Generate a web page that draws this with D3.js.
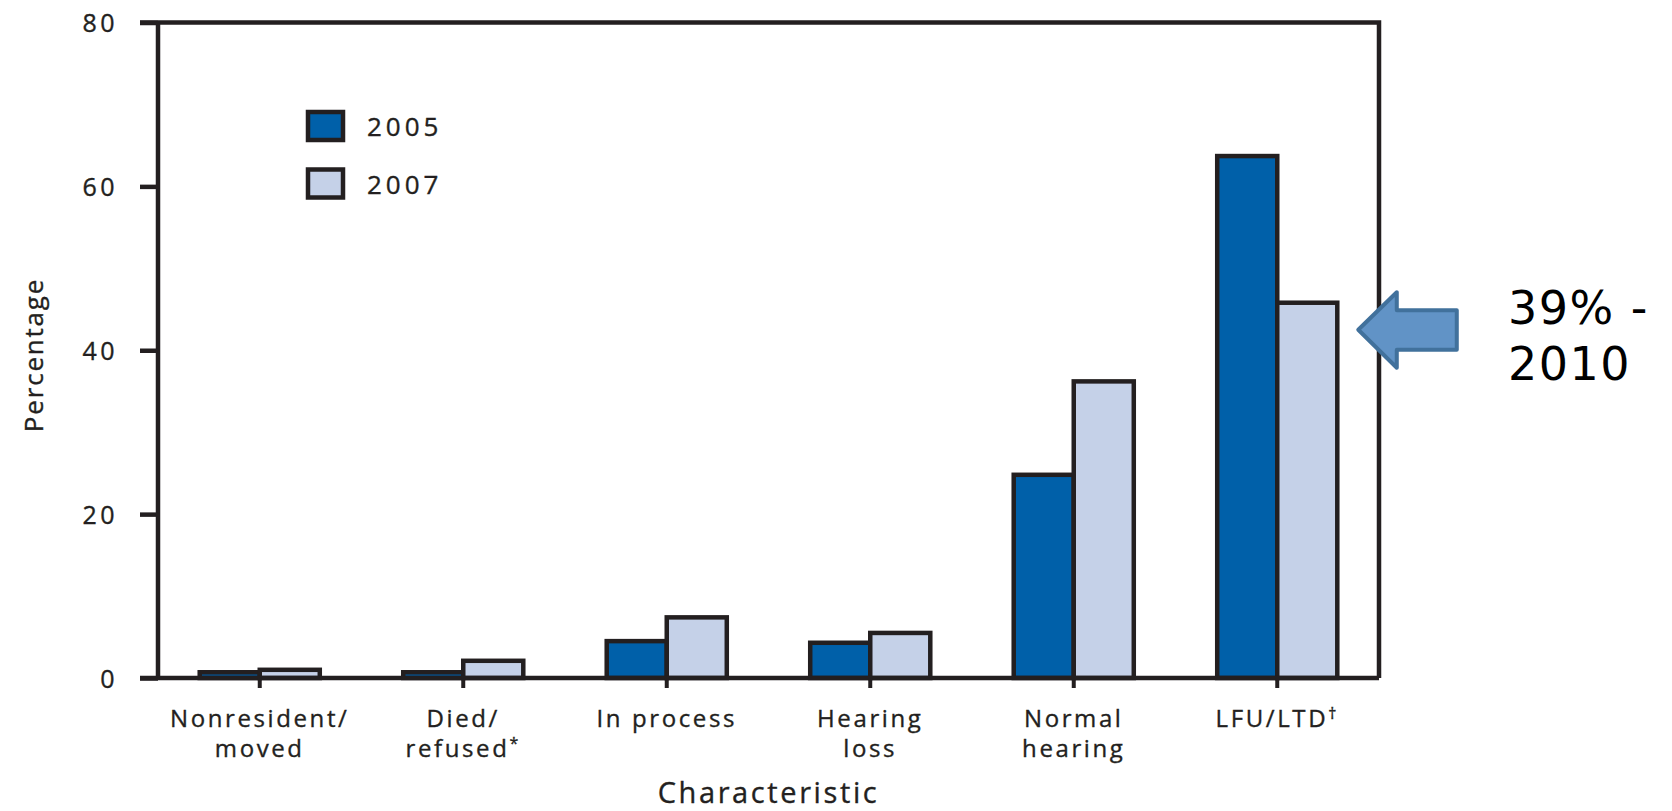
<!DOCTYPE html>
<html>
<head>
<meta charset="utf-8">
<script src="https://cdn.jsdelivr.net/npm/d3@7"></script>
<style>
  body { margin: 0; background: #fff; }
  svg text.lbl { font-family: "Open Sans", sans-serif; fill: #231f20; stroke: #231f20; stroke-width: 0.35px; }
</style>
</head>
<body>
<div id="chart"></div>
<script>
// data
var categories = ["Nonresident/moved", "Died/refused*", "In process", "Hearing loss", "Normal hearing", "LFU/LTD†"];
var catLines = [["Nonresident/", "moved"], ["Died/", "refused*"], ["In process"], ["Hearing", "loss"], ["Normal", "hearing"], ["LFU/LTD†"]];
var years = ["2005", "2007"];
var values2005 = [0.7, 0.7, 4.5, 4.3, 24.8, 63.7];
var values2007 = [1.0, 2.1, 7.4, 5.5, 36.2, 45.8];
var yTicks = [0, 20, 40, 60, 80];
var noteLines = ["39% -", "2010"];
var noteValue = 42.5;

var colors = {"2005": "#0060a9", "2007": "#c5d1e8"};
var ink = "#231f20";

var W = 1672, H = 811;
var plotL = 158, plotR = 1379, plotT = 22.5, plotB = 678;

var svg = d3.select("#chart")
  .append("svg")
  .attr("width", W)
  .attr("height", H);

var x = d3.scaleBand()
  .domain(categories)
  .range([plotL, plotR])
  .paddingInner(0.41)
  .paddingOuter(0.205);

var x1 = d3.scaleBand()
  .domain(years)
  .range([0, x.bandwidth()]);

var y = d3.scaleLinear()
  .domain([0, 80])
  .range([plotB, plotT]);

var rows = categories.map(function(c, i) {
  return {cat: c, vals: [{year: "2005", v: values2005[i]}, {year: "2007", v: values2007[i]}]};
});

// bars
var groups = svg.selectAll("g.cat")
  .data(rows)
  .enter()
  .append("g")
  .attr("class", "cat")
  .attr("transform", function(d) { return "translate(" + x(d.cat) + ",0)"; });

groups.selectAll("rect")
  .data(function(d) { return d.vals; })
  .enter()
  .append("rect")
  .attr("x", function(d) { return x1(d.year); })
  .attr("y", function(d) { return y(d.v); })
  .attr("width", x1.bandwidth())
  .attr("height", function(d) { return y(0) - y(d.v); })
  .style("fill", function(d) { return colors[d.year]; })
  .style("stroke", ink)
  .style("stroke-width", 4.5);

// frame top + right
svg.append("path")
  .attr("d", "M" + (plotL - 18) + "," + plotT + "H" + plotR + "V" + plotB)
  .style("fill", "none")
  .style("stroke", ink)
  .style("stroke-width", 4.5);

// y axis
var yAxis = svg.append("g")
  .attr("transform", "translate(" + plotL + ",0)")
  .call(d3.axisLeft(y).tickValues(yTicks).tickSize(18).tickPadding(22));
yAxis.select(".domain").attr("d", "M0," + plotT + "V" + plotB).style("stroke", ink).style("stroke-width", 4.5);
yAxis.selectAll(".tick line").style("stroke", ink).style("stroke-width", 4.5);
yAxis.selectAll(".tick text")
  .attr("class", "lbl")
  .style("font-size", "25px")
  .style("letter-spacing", "3.5px")
  .attr("dy", "0.36em");

// x axis
var xAxis = svg.append("g")
  .attr("transform", "translate(0," + plotB + ")")
  .call(d3.axisBottom(x).tickSize(10).tickFormat(""));
xAxis.select(".domain").attr("d", "M" + (plotL - 18) + ",0H" + plotR).style("stroke", ink).style("stroke-width", 4.5);
xAxis.selectAll(".tick line").style("stroke", ink).style("stroke-width", 4);

// category labels
categories.forEach(function(c, i) {
  var cx = x(c) + x.bandwidth() / 2;
  catLines[i].forEach(function(line, j) {
    var mark = line.slice(-1);
    var t = svg.append("text")
      .attr("class", "lbl")
      .attr("x", cx)
      .attr("y", 727 + j * 30)
      .attr("text-anchor", "middle")
      .style("font-size", "24px")
      .style("letter-spacing", "2.6px");
    if (mark === "*" || mark === "†") {
      t.append("tspan").text(line.slice(0, -1));
      t.append("tspan")
        .attr("dy", -8)
        .style("font-size", "16px")
        .text(mark);
    } else {
      t.text(line);
    }
  });
});

// axis titles
svg.append("text")
  .attr("class", "lbl")
  .attr("x", (plotL + plotR) / 2)
  .attr("y", 803)
  .attr("text-anchor", "middle")
  .style("font-size", "29px")
  .style("letter-spacing", "2.6px")
  .text("Characteristic");

svg.append("text")
  .attr("class", "lbl")
  .attr("transform", "translate(43,355) rotate(-90)")
  .attr("text-anchor", "middle")
  .style("font-size", "26px")
  .style("letter-spacing", "1.8px")
  .text("Percentage");

// legend
var legend = svg.selectAll("g.legend")
  .data(years)
  .enter()
  .append("g")
  .attr("class", "legend")
  .attr("transform", function(d, i) { return "translate(308," + (112 + i * 57.5) + ")"; });

legend.append("rect")
  .attr("width", 35)
  .attr("height", 28)
  .style("fill", function(d) { return colors[d]; })
  .style("stroke", ink)
  .style("stroke-width", 4.5);

legend.append("text")
  .attr("class", "lbl")
  .attr("x", 59)
  .attr("y", 24)
  .style("font-size", "26px")
  .style("letter-spacing", "4px")
  .text(function(d) { return d; });

// annotation arrow pointing at the 2007 LFU bar
var ax = x(categories[5]) + x.bandwidth() + 21;
var ay = y(noteValue);
svg.append("path")
  .attr("transform", "translate(" + ax + "," + ay + ")")
  .attr("d", "M0,0L38.5,-37.5V-19.5H98.5V20H38.5V38Z")
  .style("fill", "#6193c6")
  .style("stroke", "#41719c")
  .style("stroke-width", 4)
  .style("stroke-linejoin", "round");

svg.append("text")
  .attr("x", 1508)
  .attr("y", 324)
  .style("font-family", "DejaVu Sans")
  .style("font-size", "46px")
  .style("letter-spacing", "1.5px")
  .style("fill", "#000")
  .selectAll("tspan")
  .data(noteLines)
  .enter()
  .append("tspan")
  .attr("x", 1508)
  .attr("dy", function(d, i) { return i === 0 ? 0 : 56; })
  .text(function(d) { return d; });
</script>
</body>
</html>
